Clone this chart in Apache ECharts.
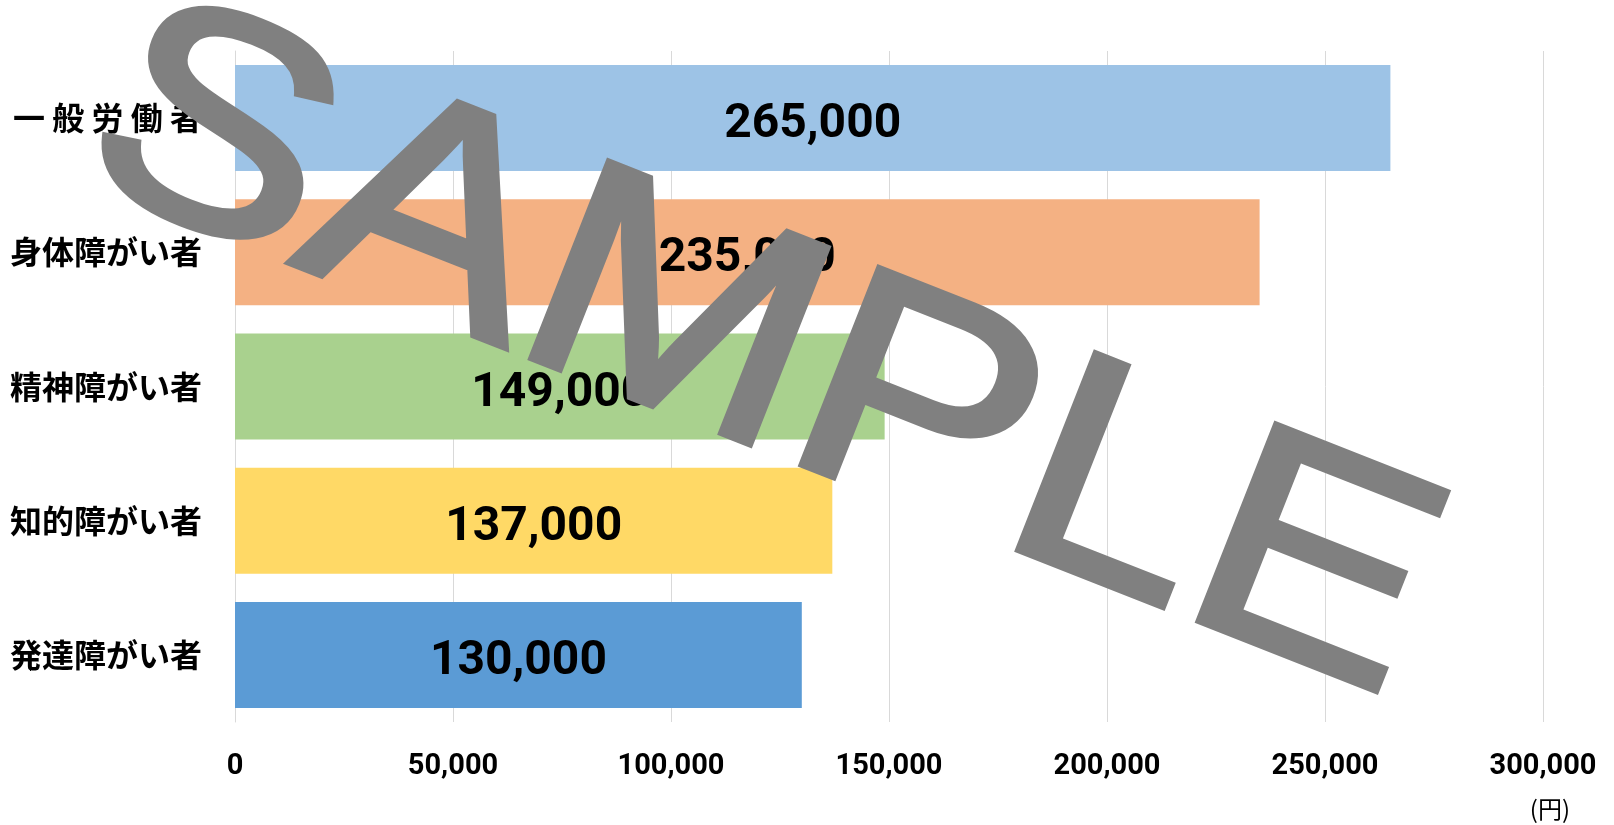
<!DOCTYPE html>
<html>
<head>
<meta charset="utf-8">
<script src="https://cdn.jsdelivr.net/npm/echarts@6/dist/echarts.min.js"></script>
<style>
html,body{margin:0;padding:0;background:#fff;}
#chart{width:1614px;height:825px;}
</style>
</head>
<body>
<div id="chart"></div>
<script>
// ---- data ----
const categories = ['一般労働者', '身体障がい者', '精神障がい者', '知的障がい者', '発達障がい者'];
const values = [265000, 235000, 149000, 137000, 130000];
const barColors = ['#9DC3E6', '#F4B183', '#A9D18E', '#FFD966', '#5B9BD5'];
const xTicks = { min: 0, max: 300000, interval: 50000 };
const unitLabel = '(円)';
const watermark = 'SAMPLE';

const fmt = v => Number(v).toLocaleString('en-US');
// spread 5-character labels to the width of the 6-character ones (Excel distributed alignment)
const spread = s => (s.length === 5 ? s.split('').join(' ') : s);

const chart = echarts.init(document.getElementById('chart'));
chart.setOption({
  animation: false,
  backgroundColor: '#ffffff',
  grid: { left: 235, right: 71, top: 51, bottom: 103, containLabel: false },
  xAxis: {
    type: 'value',
    min: xTicks.min, max: xTicks.max, interval: xTicks.interval,
    axisLine: { show: false },
    axisTick: { show: false },
    splitLine: { show: true, lineStyle: { color: '#d9d9d9', width: 1 } },
    axisLabel: {
      formatter: fmt, margin: 30,
      fontFamily: 'Roboto, "Noto Sans", sans-serif', fontWeight: 'bold', fontSize: 29, color: '#000'
    }
  },
  yAxis: {
    type: 'category',
    inverse: true,
    data: categories,
    axisLine: { show: true, lineStyle: { color: '#d9d9d9', width: 1 } },
    axisTick: { show: false },
    axisLabel: {
      formatter: spread, margin: 33,
      fontFamily: '"Noto Sans CJK JP", sans-serif', fontWeight: 'bold', fontSize: 32, color: '#000'
    }
  },
  series: [{
    type: 'bar',
    data: values.map((v, i) => ({ value: v, itemStyle: { color: barColors[i] } })),
    barCategoryGap: '21%',
    label: {
      show: true, position: 'inside', formatter: p => fmt(p.value), offset: [0, 7],
      fontFamily: 'Roboto, "Noto Sans", sans-serif', fontWeight: 'bold', fontSize: 48, color: '#000'
    }
  }],
  graphic: [
    {
      type: 'text', right: 44, top: 797, z: 50,
      style: { text: unitLabel, font: '24px "Noto Sans CJK JP", sans-serif', fill: '#000' }
    },
    {
      type: 'text', x: 762, y: 358, z: 100,
      rotation: -21.5 * Math.PI / 180, scaleX: 1.14, scaleY: 1,
      style: {
        text: watermark, font: '306px "Liberation Sans", Arial, sans-serif',
        fill: '#808080', stroke: '#808080', lineWidth: 7,
        align: 'center', verticalAlign: 'middle'
      }
    }
  ]
});
</script>
</body>
</html>
